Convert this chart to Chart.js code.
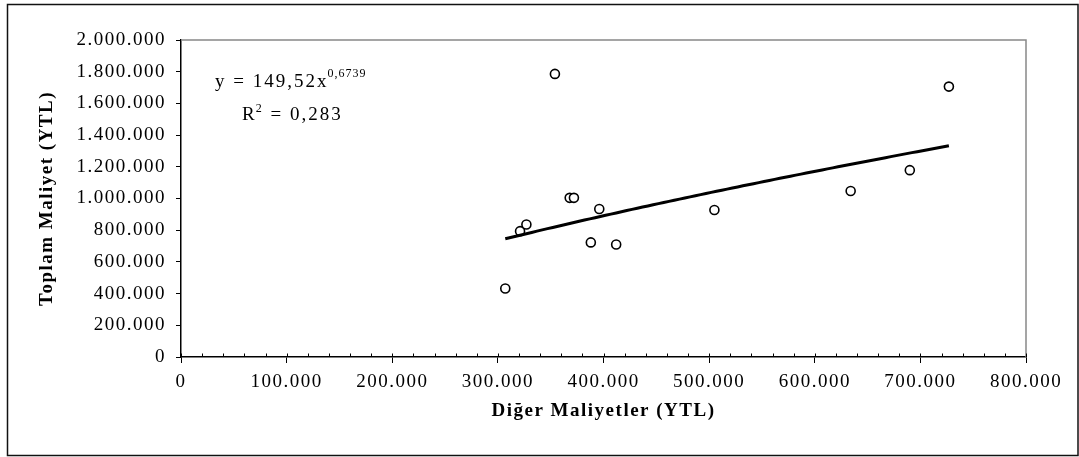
<!DOCTYPE html>
<html lang="tr">
<head>
  <meta charset="UTF-8">
  <title>Toplam Maliyet - Diğer Maliyetler</title>
  <script src="https://cdn.jsdelivr.net/npm/chart.js"></script>
  <style>
    body { margin: 0; background: #fff; }
    #kutu { width: 1079px; height: 457px; }
  </style>
</head>
<body>

<div id="kutu"><canvas id="grafik" width="1079" height="457"></canvas></div>

<script>
// Diğer maliyetler (x) ve toplam maliyet (y), YTL
const digerMaliyet = [307000, 321000, 327000, 354000, 368000, 372000, 388000, 396000, 412000, 505000, 634000, 690000, 727000];
const toplamMaliyet = [432000, 794000, 836000, 1786000, 1004000, 1004000, 723000, 934000, 710000, 927000, 1047000, 1179000, 1706000];

// Üssel eğilim çizgisi: y = a * x^b
const trendA = 149.52;
const trendB = 0.6739;
const trendR2 = 0.283;
const trendAralik = [307000, 727000];

const xTicks = [0, 100000, 200000, 300000, 400000, 500000, 600000, 700000, 800000];
const yTicks = [0, 200000, 400000, 600000, 800000, 1000000, 1200000, 1400000, 1600000, 1800000, 2000000];

const binlik = v => String(v).replace(/\B(?=(\d{3})+(?!\d))/g, ".");
const ondalik = v => String(v).replace(".", ",");

// eğilim çizgisi noktaları
const trendNoktalar = [];
for (let x = trendAralik[0]; x <= trendAralik[1]; x += 5000) {
  trendNoktalar.push({ x: x, y: trendA * Math.pow(x, trendB) });
}
trendNoktalar.push({ x: trendAralik[1], y: trendA * Math.pow(trendAralik[1], trendB) });

const yazi = '"Liberation Serif", "Times New Roman", serif';

// harf aralığı
const aralik = {
  id: "aralik",
  beforeLayout(chart) { chart.ctx.letterSpacing = "1.5px"; },
  beforeDraw(chart) { chart.ctx.letterSpacing = "1.5px"; }
};

// çerçeveler, iç tikler ve denklem
const ekler = {
  id: "ekler",
  afterDraw(chart) {
    const ctx = chart.ctx;
    const a = chart.chartArea;
    const sx = chart.scales.x;
    ctx.save();
    ctx.letterSpacing = "0px";

    // dış çerçeve
    ctx.strokeStyle = "#111";
    ctx.lineWidth = 1.5;
    ctx.strokeRect(7.5, 4.5, 1070.5, 451);

    // grafik alanının üst ve sağ kenarı
    ctx.strokeStyle = "#888";
    ctx.lineWidth = 1.5;
    ctx.beginPath();
    ctx.moveTo(a.left, a.top);
    ctx.lineTo(a.right, a.top);
    ctx.lineTo(a.right, a.bottom);
    ctx.stroke();

    // x ekseni ara tikleri (içe doğru)
    ctx.strokeStyle = "#000";
    ctx.lineWidth = 1;
    ctx.beginPath();
    for (let v = xTicks[0]; v <= xTicks[xTicks.length - 1]; v += 20000) {
      const px = Math.round(sx.getPixelForValue(v)) + 0.5;
      ctx.moveTo(px, a.bottom);
      ctx.lineTo(px, a.bottom - 3.5);
    }
    ctx.stroke();

    // denklem ve R²
    ctx.fillStyle = "#000";
    ctx.textAlign = "left";
    ctx.textBaseline = "alphabetic";
    ctx.letterSpacing = "2px";
    ctx.font = "19px " + yazi;
    const s1 = "y = " + ondalik(trendA) + "x";
    let x = 215;
    ctx.fillText(s1, x, 87);
    x += ctx.measureText(s1).width - 1;
    ctx.font = "12px " + yazi;
    ctx.letterSpacing = "1px";
    ctx.fillText(ondalik(trendB), x, 77);

    ctx.font = "19px " + yazi;
    ctx.letterSpacing = "2px";
    x = 242;
    ctx.fillText("R", x, 120);
    x += ctx.measureText("R").width - 1;
    ctx.font = "12px " + yazi;
    ctx.fillText("2", x, 112);
    x += ctx.measureText("2").width;
    ctx.font = "19px " + yazi;
    ctx.fillText(" = " + ondalik(trendR2), x, 120);
    ctx.restore();
  }
};

new Chart(document.getElementById("grafik"), {
  type: "scatter",
  data: {
    datasets: [
      {
        type: "line",
        label: "Eğilim",
        data: trendNoktalar,
        borderColor: "#000",
        borderWidth: 3,
        pointRadius: 0,
        fill: false,
        tension: 0,
        order: 0
      },
      {
        label: "Toplam Maliyet",
        data: digerMaliyet.map((x, i) => ({ x: x, y: toplamMaliyet[i] })),
        pointStyle: "circle",
        pointRadius: 4.5,
        borderWidth: 1.6,
        borderColor: "#000",
        backgroundColor: "#fff",
        order: 1
      }
    ]
  },
  options: {
    responsive: false,
    animation: false,
    events: [],
    layout: { padding: { top: 40, right: 53, bottom: 0, left: 0 } },
    plugins: { legend: { display: false }, tooltip: { enabled: false } },
    scales: {
      x: {
        type: "linear",
        min: 0,
        max: 800000,
        afterBuildTicks: s => { s.ticks = xTicks.map(v => ({ value: v })); },
        afterFit: s => { s.height = 100; },
        grid: { drawOnChartArea: false, drawTicks: true, tickLength: 6, color: "#000", lineWidth: 1 },
        border: { color: "#000", width: 1.5 },
        ticks: {
          color: "#000",
          padding: 8,
          maxRotation: 0,
          font: { family: yazi, size: 19 },
          callback: v => binlik(v)
        },
        title: {
          display: true,
          text: "Diğer Maliyetler (YTL)",
          color: "#000",
          font: { family: yazi, size: 19, weight: "bold" },
          padding: { top: 0, bottom: 35 }
        }
      },
      y: {
        type: "linear",
        min: 0,
        max: 2000000,
        afterBuildTicks: s => { s.ticks = yTicks.map(v => ({ value: v })); },
        afterFit: s => { s.width = 181; },
        grid: { drawOnChartArea: false, drawTicks: true, tickLength: 5, color: "#000", lineWidth: 1 },
        border: { color: "#000", width: 1.5 },
        ticks: {
          color: "#000",
          padding: 10,
          font: { family: yazi, size: 19 },
          callback: v => binlik(v)
        },
        title: {
          display: true,
          text: "Toplam Maliyet (YTL)",
          color: "#000",
          font: { family: yazi, size: 19, weight: "bold" },
          padding: { top: 36, bottom: 0 }
        }
      }
    }
  },
  plugins: [aralik, ekler]
});
</script>

</body>
</html>
